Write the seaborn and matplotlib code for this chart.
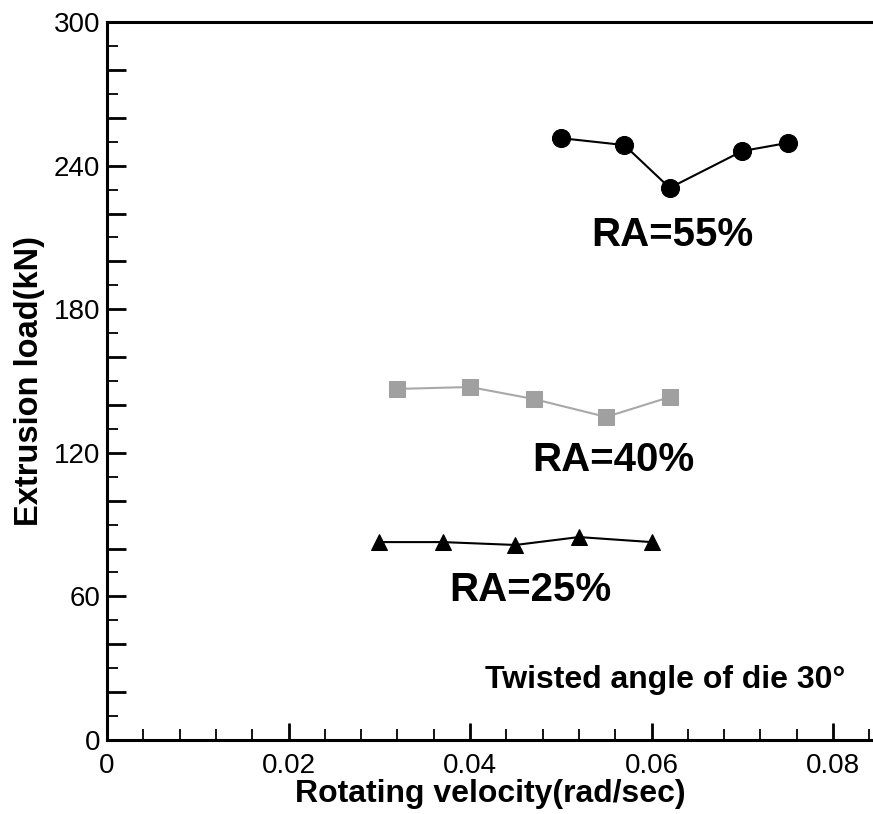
import pandas as pd
import seaborn as sns
import numpy as np
import matplotlib.pyplot as plt
from matplotlib.ticker import MultipleLocator, FuncFormatter

# data
vel_55 = [0.050, 0.057, 0.062, 0.070, 0.075]
load_55 = [251.5, 248.6, 230.7, 246.1, 249.5]
vel_40 = [0.032, 0.040, 0.047, 0.055, 0.062]
load_40 = [146.7, 147.5, 142.5, 135.0, 143.3]
vel_25 = [0.030, 0.037, 0.045, 0.052, 0.060]
load_25 = [82.7, 82.7, 81.5, 84.8, 82.7]
series_names = ["RA=55%", "RA=40%", "RA=25%"]

df = pd.concat([
    pd.DataFrame({"vel": vel_55, "load": load_55, "RA": series_names[0]}),
    pd.DataFrame({"vel": vel_40, "load": load_40, "RA": series_names[1]}),
    pd.DataFrame({"vel": vel_25, "load": load_25, "RA": series_names[2]}),
])

sns.set_style("ticks")
plt.rcParams['font.family'] = ['Liberation Sans', 'DejaVu Sans']
plt.rcParams['text.color'] = 'black'
plt.rcParams['axes.labelcolor'] = 'black'
plt.rcParams['xtick.color'] = 'black'
plt.rcParams['ytick.color'] = 'black'

fig = plt.figure(figsize=(8.73, 8.14), dpi=100)
ax = fig.add_axes([0.1226, 0.0909, 0.8774, 0.882])

styles = {
    "RA=55%": dict(color="black", marker="o", markersize=13, mfc="black", mec="black"),
    "RA=40%": dict(color="#a8a8a8", marker="s", markersize=11, mfc="#a0a0a0", mec="#a0a0a0"),
    "RA=25%": dict(color="black", marker="^", markersize=12, mfc="black", mec="black"),
}
for name in series_names:
    sub = df[df["RA"] == name]
    st = styles[name]
    sns.lineplot(data=sub, x="vel", y="load", ax=ax, color=st["color"], linewidth=1.5,
                 marker=st["marker"], markersize=st["markersize"],
                 markerfacecolor=st["mfc"], markeredgecolor=st["mec"],
                 sort=False, legend=False)

ax.set_xlim(0, 0.0844)
ax.set_ylim(0, 300)

ax.xaxis.set_major_locator(MultipleLocator(0.02))
ax.xaxis.set_minor_locator(MultipleLocator(0.004))
ax.yaxis.set_major_locator(MultipleLocator(20))
ax.yaxis.set_minor_locator(MultipleLocator(10))
ax.xaxis.set_major_formatter(FuncFormatter(lambda v, p: "0" if abs(v) < 1e-9 else f"{v:.2f}"))
ax.yaxis.set_major_formatter(FuncFormatter(lambda v, p: f"{int(round(v))}" if round(v) % 60 == 0 else ""))

ax.tick_params(which="major", direction="in", length=14, width=2, labelsize=20, pad=5)
ax.tick_params(which="minor", direction="in", length=8, width=1.3)
ax.tick_params(axis="x", which="major", length=12, pad=9)

for side in ["left", "bottom", "top"]:
    ax.spines[side].set_linewidth(2.2)
    ax.spines[side].set_color("black")
ax.spines["right"].set_visible(False)

ax.set_xlabel("Rotating velocity(rad/sec)", fontsize=23, fontweight="bold", labelpad=0)
ax.set_ylabel("Extrusion load(kN)", fontsize=23.5, fontweight="bold", labelpad=6)

ax.text(0.0623, 211, "RA=55%", fontsize=29, fontweight="bold", ha="center", va="center")
ax.text(0.0558, 117, "RA=40%", fontsize=29, fontweight="bold", ha="center", va="center")
ax.text(0.0466, 62.5, "RA=25%", fontsize=29, fontweight="bold", ha="center", va="center")
ax.text(0.0813, 25, "Twisted angle of die 30\u00b0", fontsize=23, fontweight="bold", ha="right", va="center")

fig.savefig("out.png", dpi=100)
